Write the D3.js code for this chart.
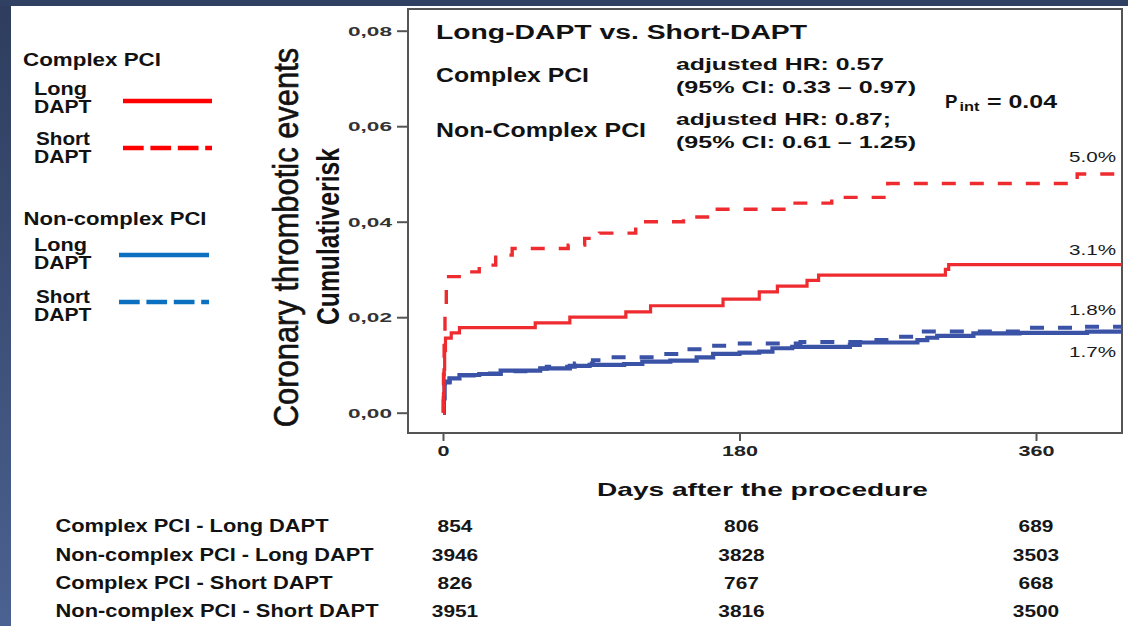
<!DOCTYPE html>
<html>
<head>
<meta charset="utf-8">
<script src="https://cdn.jsdelivr.net/npm/d3@7"></script>
<style>
  html, body { margin: 0; padding: 0; background: #fff; overflow: hidden; }
  svg text { font-family: "Liberation Sans", Arial, Helvetica, sans-serif; }
</style>
</head>
<body>
<svg id="chart" width="1128" height="626"></svg>
<script>
// Cumulative risk of coronary thrombotic events, as [day, cumulative risk]
const complexLong = [
  [0, 0], [0.3, 0.004], [0.6, 0.009], [1, 0.013], [1.5, 0.0156], [5, 0.0167], [10, 0.0178],
  [56, 0.0188], [77, 0.0200], [111, 0.0211], [126, 0.0224], [170, 0.0238], [192, 0.0253],
  [203, 0.0265], [221, 0.0277], [228, 0.0288], [305, 0.0300], [307, 0.031], [412, 0.031]
];
const complexShort = [
  [0, 0], [0.3, 0.008], [0.7, 0.015], [1.2, 0.022], [2, 0.0285], [13, 0.0295], [22, 0.0309],
  [32, 0.0330], [42, 0.0344], [76, 0.0351], [86, 0.0365], [95, 0.0376], [117, 0.0400],
  [146, 0.0410], [164, 0.0426], [208, 0.0439], [236, 0.0451], [270, 0.0480], [385, 0.050],
  [412, 0.050]
];
const nonComplexLong = [
  [0, 0], [0.5, 0.003], [1, 0.0065], [4, 0.0072], [10, 0.0079], [22, 0.0081], [35, 0.0088],
  [59, 0.0093], [77, 0.0098], [89, 0.0100], [110, 0.0102], [121, 0.0107], [138, 0.0109],
  [154, 0.0116], [164, 0.0123], [180, 0.0126], [192, 0.0128], [200, 0.0135], [212, 0.0138],
  [247, 0.0142], [253, 0.0147], [288, 0.0152], [294, 0.0157], [300, 0.0161], [322, 0.0166],
  [350, 0.0167], [391, 0.017], [412, 0.017]
];
const nonComplexShort = [
  [0, 0], [0.5, 0.003], [1, 0.0063], [4, 0.0071], [10, 0.0078], [22, 0.0082], [35, 0.0087],
  [50, 0.0092], [63, 0.0096], [80, 0.0103], [91, 0.0110], [100, 0.0116], [134, 0.0123],
  [148, 0.0133], [162, 0.0140], [174, 0.0145], [217, 0.0148], [259, 0.0152], [271, 0.0159],
  [290, 0.0170], [355, 0.0178], [389, 0.018], [412, 0.018]
];

// One-year cumulative risk printed at the right end of each curve
const endValues = [0.050, 0.031, 0.018, 0.017];
const endTexts = ["5.0%", "3.1%", "1.8%", "1.7%"];

// Axis ticks
const xTicks = [0, 180, 360];
const yTicks = [0, 0.02, 0.04, 0.06, 0.08];
const yTickLabels = ["0,00", "0,02", "0,04", "0,06", "0,08"];

// Number at risk
const riskTimes = [0, 180, 360];
const riskLabels = [
  "Complex PCI - Long DAPT",
  "Non-complex PCI - Long DAPT",
  "Complex PCI - Short DAPT",
  "Non-complex PCI - Short DAPT"
];
const riskComplexLong = [854, 806, 689];
const riskNonComplexLong = [3946, 3828, 3503];
const riskComplexShort = [826, 767, 668];
const riskNonComplexShort = [3951, 3816, 3500];

// ---------------------------------------------------------------
const svg = d3.select("#chart");
const W = 1128, H = 626;
const plot = { left: 408, right: 1122, top: 9, bottom: 433 };

const RED = "#ee2c30", BLUE = "#3b53a7";
const LEG_RED = "#ff0000", LEG_BLUE = "#0b70c0";
const INK = "#121212";

// slide background: dark band along top and left
const defs = svg.append("defs");
const grad = defs.append("linearGradient").attr("id", "band").attr("x1", 0).attr("y1", 0).attr("x2", 0).attr("y2", 1);
grad.append("stop").attr("offset", "0%").attr("stop-color", "#2e3d5d");
grad.append("stop").attr("offset", "100%").attr("stop-color", "#4b6191");
svg.append("rect").attr("width", W).attr("height", H).attr("fill", "#fff");
svg.append("rect").attr("x", 0).attr("y", 0).attr("width", 11).attr("height", H).attr("fill", "url(#band)");
svg.append("rect").attr("x", 0).attr("y", 0).attr("width", W).attr("height", 6).attr("fill", "#2f4062");

// text helper: fixed rendered width
function label(parent, str, x, y, size, width, opts = {}) {
  const t = parent.append("text")
    .attr("x", x).attr("y", y)
    .attr("font-size", size)
    .attr("font-weight", opts.weight || "bold")
    .attr("fill", opts.fill || INK)
    .attr("text-anchor", opts.anchor || "start")
    .text(str);
  if (width) t.attr("textLength", width).attr("lengthAdjust", "spacingAndGlyphs");
  return t;
}

// scales
const x = d3.scaleLinear().domain([0, 360]).range([443, 1036]);
const y = d3.scaleLinear().domain([0, 0.08]).range([412.7, 30.7]);

// frame
svg.append("rect")
  .attr("x", plot.left).attr("y", plot.top)
  .attr("width", plot.right - plot.left).attr("height", plot.bottom - plot.top)
  .attr("fill", "none").attr("stroke", "#555").attr("stroke-width", 2);

// y axis
const yAxis = svg.append("g")
  .attr("transform", `translate(${plot.left},0)`)
  .call(d3.axisLeft(y).tickValues(yTicks).tickSize(11).tickPadding(5)
    .tickFormat((d, i) => yTickLabels[i]));
yAxis.select(".domain").remove();
yAxis.selectAll(".tick line").attr("stroke", "#555").attr("stroke-width", 2);
yAxis.selectAll(".tick text")
  .attr("font-size", 12.5).attr("font-weight", "bold").attr("fill", "#333")
  .attr("dy", "0.36em")
  .attr("textLength", 44).attr("lengthAdjust", "spacingAndGlyphs")
  .style("font-family", '"Liberation Sans", Arial, sans-serif');

// x axis
const xAxis = svg.append("g")
  .attr("transform", `translate(0,${plot.bottom})`)
  .call(d3.axisBottom(x).tickValues(xTicks).tickSize(8).tickFormat(d3.format("d")));
xAxis.select(".domain").remove();
xAxis.selectAll(".tick line").attr("stroke", "#555").attr("stroke-width", 2);
xAxis.selectAll(".tick text")
  .attr("y", 23).attr("dy", 0)
  .attr("font-size", 15.5).attr("font-weight", "bold").attr("fill", "#222")
  .attr("textLength", d => String(d).length * 12).attr("lengthAdjust", "spacingAndGlyphs")
  .style("font-family", '"Liberation Sans", Arial, sans-serif');

// axis titles (vertical text drawn tall and narrow)
svg.append("text")
  .attr("transform", "translate(298,237.5) scale(1.13,1) rotate(-90)")
  .attr("text-anchor", "middle").attr("font-size", 30.9).attr("fill", INK)
  .attr("stroke", INK).attr("stroke-width", 0.55)
  .text("Coronary thrombotic events");
svg.append("text")
  .attr("transform", "translate(338.5,236.5) scale(1.3,1) rotate(-90)")
  .attr("text-anchor", "middle").attr("font-size", 24.7).attr("font-weight", "bold").attr("fill", INK)
  .text("Cumulativerisk");
label(svg, "Days after the procedure", 762.5, 496, 18.6, 331, { anchor: "middle" });

// curves
const line = d3.line().x(d => x(d[0])).y(d => y(d[1])).curve(d3.curveStepAfter);
const curves = [
  { data: nonComplexShort, color: BLUE, width: 4, dash: "14,14" },
  { data: nonComplexLong, color: BLUE, width: 4.2, dash: null },
  { data: complexShort, color: RED, width: 3.4, dash: "14,14" },
  { data: complexLong, color: RED, width: 3.2, dash: null }
];
svg.append("g").selectAll("path").data(curves).join("path")
  .attr("d", d => line(d.data))
  .attr("fill", "none")
  .attr("stroke", d => d.color)
  .attr("stroke-width", d => d.width)
  .attr("stroke-dasharray", d => d.dash)
  .attr("stroke-linejoin", "miter");

// end-of-curve percentages
const endOffsets = [-12, -10, -12, 25];
endValues.forEach((v, i) => {
  label(svg, endTexts[i], 1116, y(v) + endOffsets[i], 15.5, 47, { anchor: "end", weight: "normal", fill: "#1a1a1a" });
});

// in-plot annotations
label(svg, "Long-DAPT vs. Short-DAPT", 436, 39, 20, 371);
label(svg, "Complex PCI", 436, 81.5, 20.5, 153);
label(svg, "Non-Complex PCI", 436, 136.5, 20.5, 210);
label(svg, "adjusted HR: 0.57", 676, 69.5, 17, 208);
label(svg, "(95% CI: 0.33 \u2013 0.97)", 676, 92.5, 17, 240);
label(svg, "adjusted HR: 0.87;", 676, 124.5, 17, 215);
label(svg, "(95% CI: 0.61 \u2013 1.25)", 676, 147.5, 17, 240);

const pint = svg.append("text").attr("font-weight", "bold").attr("fill", INK).attr("font-size", 18.6);
pint.append("tspan").attr("x", 945).attr("y", 108).text("P");
pint.append("tspan").attr("x", 959.5).attr("y", 111).attr("font-size", 13)
  .attr("textLength", 20).attr("lengthAdjust", "spacingAndGlyphs").text("int");
pint.append("tspan").attr("x", 987).attr("y", 108)
  .attr("textLength", 70).attr("lengthAdjust", "spacingAndGlyphs").text("= 0.04");

// legend
const legend = svg.append("g");
label(legend, "Complex PCI", 23, 66, 17.5, 138);
label(legend, "Non-complex PCI", 23.5, 225, 17.5, 183);
const legendItems = [
  { l1: "Long", l2: "DAPT", y1: 95, y2: 113, ly: 101, x0: 123, x1: 212, color: LEG_RED, dash: null, short: false },
  { l1: "Short", l2: "DAPT", y1: 145, y2: 163, ly: 148, x0: 123, x1: 212, color: LEG_RED, dash: "20.7,6.7", short: true },
  { l1: "Long", l2: "DAPT", y1: 251, y2: 269, ly: 255, x0: 119, x1: 209, color: LEG_BLUE, dash: null, short: false },
  { l1: "Short", l2: "DAPT", y1: 303, y2: 321, ly: 302, x0: 119, x1: 209, color: LEG_BLUE, dash: "20.7,6.7", short: true }
];
legendItems.forEach(it => {
  label(legend, it.l1, it.short ? 36 : 34, it.y1, 17.5, it.short ? 54 : 53);
  label(legend, it.l2, 34, it.y2, 17.5, 57.5);
  legend.append("line")
    .attr("x1", it.x0).attr("x2", it.x1).attr("y1", it.ly).attr("y2", it.ly)
    .attr("stroke", it.color).attr("stroke-width", 4.5)
    .attr("stroke-dasharray", it.dash);
});

// number-at-risk table
const riskRows = [riskComplexLong, riskNonComplexLong, riskComplexShort, riskNonComplexShort];
const rowBaselines = [532, 560.5, 588.5, 617];
const rowWidths = [273, 318, 277, 323];
const colNudge = [12, 2, 0];
riskRows.forEach((counts, r) => {
  label(svg, riskLabels[r], 55.5, rowBaselines[r], 18, rowWidths[r]);
  counts.forEach((n, c) => {
    const s = String(n);
    label(svg, s, x(riskTimes[c]) + colNudge[c], rowBaselines[r], 16.3, s.length * 11.6,
      { anchor: "middle", weight: "bold", fill: "#161616" });
  });
});
</script>
</body>
</html>
